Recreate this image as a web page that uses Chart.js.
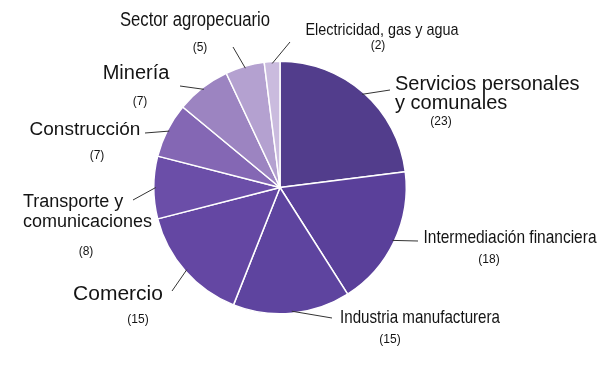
<!DOCTYPE html>
<html>
<head>
<meta charset="utf-8">
<script src="https://cdn.jsdelivr.net/npm/chart.js"></script>
<style>
  html, body { margin: 0; padding: 0; background: #fff; }
  #wrap { width: 600px; height: 375px; }
</style>
</head>
<body>
<div id="wrap"><canvas id="pie" width="600" height="375"></canvas></div>
<script>
// data
const sectores = ['Servicios personales y comunales', 'Intermediación financiera', 'Industria manufacturera',
  'Comercio', 'Transporte y comunicaciones', 'Construcción', 'Minería', 'Sector agropecuario',
  'Electricidad, gas y agua'];
const valores = [23, 18, 15, 15, 8, 7, 7, 5, 2];
const colores = ['#523d8c', '#5a409a', '#5e449f', '#6447a3', '#6b4ea8', '#8467b4', '#9c84c1', '#b4a1d0', '#cabbde'];

// label layout: text lines, anchor, font, leader-line end, value position
// w = width to squeeze condensed labels into
const etiquetas = [
  { lines: ['Servicios personales', 'y comunales'], x: 395, y: 84, lh: 19, align: 'left', size: 20, end: [390, 90], val: [441, 122] },
  { lines: ['Intermediación financiera'], x: 510, y: 238, align: 'center', size: 19, w: 173, end: [418, 241], val: [489, 260] },
  { lines: ['Industria manufacturera'], x: 420, y: 318, align: 'center', size: 19, w: 160, end: [332, 318], val: [390, 340] },
  { lines: ['Comercio'], x: 118, y: 294, align: 'center', size: 21, end: [172, 291], val: [138, 320] },
  { lines: ['Transporte y', 'comunicaciones'], x: 23, y: 202, lh: 20, align: 'left', size: 18, end: [133, 200], val: [86, 252] },
  { lines: ['Construcción'], x: 85, y: 130, align: 'center', size: 19, end: [145, 133], val: [97, 156] },
  { lines: ['Minería'], x: 136, y: 73, align: 'center', size: 20, end: [180, 86], val: [140, 102] },
  { lines: ['Sector agropecuario'], x: 195, y: 20, align: 'center', size: 20, w: 150, end: [233, 47], val: [200, 48] },
  { lines: ['Electricidad, gas y agua'], x: 382, y: 30, align: 'center', size: 17, w: 153, end: [290, 42], val: [378, 46] }
];

const etiquetasPlugin = {
  id: 'etiquetas',
  afterDatasetsDraw(chart) {
    const ctx = chart.ctx;
    const arcs = chart.getDatasetMeta(0).data;
    ctx.save();
    arcs.forEach((arc, i) => {
      const p = arc.getProps(['x', 'y', 'startAngle', 'endAngle', 'outerRadius'], true);
      const mid = (p.startAngle + p.endAngle) / 2;
      const r = p.outerRadius - 2;
      const e = etiquetas[i];
      ctx.strokeStyle = '#333';
      ctx.lineWidth = 1;
      ctx.beginPath();
      ctx.moveTo(p.x + Math.cos(mid) * r, p.y + Math.sin(mid) * r);
      ctx.lineTo(e.end[0], e.end[1]);
      ctx.stroke();

      ctx.fillStyle = '#141414';
      ctx.textBaseline = 'middle';
      ctx.textAlign = e.align;
      ctx.font = e.size + 'px "Liberation Sans", Arial, sans-serif';
      e.lines.forEach((t, k) => {
        const sx = e.w ? Math.min(1, e.w / ctx.measureText(t).width) : 1;
        ctx.save();
        ctx.translate(e.x, e.y + k * (e.lh || 0));
        ctx.scale(sx, 1);
        ctx.fillText(t, 0, 0);
        ctx.restore();
      });

      ctx.font = '12px "Liberation Sans", Arial, sans-serif';
      ctx.textAlign = 'center';
      ctx.fillText('(' + valores[i] + ')', e.val[0], e.val[1]);
    });
    ctx.restore();
  }
};

new Chart(document.getElementById('pie'), {
  type: 'pie',
  data: {
    labels: sectores,
    datasets: [{
      data: valores,
      backgroundColor: colores,
      borderColor: '#ffffff',
      borderWidth: 1.5
    }]
  },
  options: {
    responsive: false,
    animation: false,
    layout: { padding: { left: 153, right: 193, top: 60, bottom: 60 } },
    plugins: {
      legend: { display: false },
      tooltip: { enabled: false }
    }
  },
  plugins: [etiquetasPlugin]
});
</script>
</body>
</html>
